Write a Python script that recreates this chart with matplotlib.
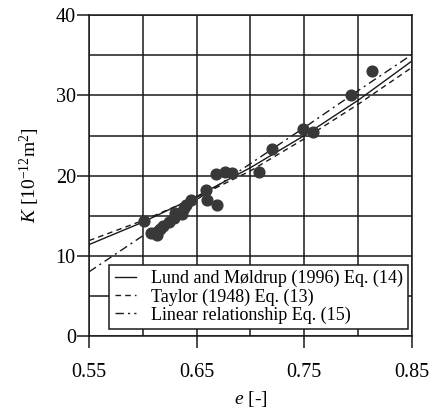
import matplotlib
matplotlib.use("Agg")
import matplotlib.pyplot as plt
from matplotlib.ticker import MultipleLocator

plt.rcParams['font.family'] = ['Liberation Serif', 'DejaVu Serif']
plt.rcParams['mathtext.fontset'] = 'custom'
plt.rcParams['mathtext.rm'] = 'Liberation Serif'
plt.rcParams['mathtext.it'] = 'Liberation Serif:italic'

# measured points
e_data = [0.601, 0.608, 0.6135, 0.616, 0.619, 0.624, 0.629, 0.630, 0.636, 0.638, 0.640,
          0.645, 0.659, 0.660, 0.669, 0.668, 0.676, 0.683, 0.708, 0.720, 0.749, 0.758,
          0.793, 0.813]
K_data = [14.3, 12.8, 12.6, 13.4, 13.7, 14.2, 14.7, 15.4, 15.2, 16.0, 16.4,
          17.0, 18.2, 16.9, 16.4, 20.2, 20.4, 20.3, 20.5, 23.3, 25.8, 25.4,
          30.0, 33.0]

# model curves
e_line = [0.55, 0.60, 0.65, 0.70, 0.75, 0.80, 0.85]
K_lund = [11.4, 14.2, 17.4, 21.0, 25.0, 29.4, 34.3]
K_taylor = [11.9, 14.4, 17.3, 20.6, 24.6, 28.9, 33.5]
K_linear = [8.0, 12.5, 17.0, 21.5, 26.0, 30.6, 35.1]

fig = plt.figure(figsize=(4.3, 4.08), dpi=100)
ax = fig.add_axes([0.207, 0.1765, 0.751, 0.786])

ink = '#1a1a1a'
ax.plot(e_line, K_lund, color=ink, lw=1.0, ls='-', label='Lund and Møldrup (1996) Eq. (14)')
ax.plot(e_line, K_taylor, color=ink, lw=1.0, ls=(0, (4, 3)), label='Taylor (1948) Eq. (13)')
ax.plot(e_line, K_linear, color=ink, lw=1.0, ls=(0, (6, 3, 1.5, 3)), label='Linear relationship Eq. (15)')
ax.scatter(e_data, K_data, s=60, color='#383838', zorder=3)

ax.set_xlim(0.55, 0.85)
ax.set_ylim(0, 40)
ax.xaxis.set_minor_locator(MultipleLocator(0.05))
ax.yaxis.set_major_locator(MultipleLocator(10))
ax.yaxis.set_minor_locator(MultipleLocator(5))
ax.set_xticks([0.55, 0.65, 0.75, 0.85])
ax.set_xticklabels(['0.55', '0.65', '0.75', '0.85'])
ax.grid(True, which='both', color=ink, lw=1.1)
ax.tick_params(which='major', direction='out', length=8.5, width=1.1, color=ink, labelsize=14.5)
ax.tick_params(axis='x', which='major', pad=11)
ax.tick_params(axis='y', which='major', pad=1)
ax.tick_params(which='minor', length=0)
for s in ax.spines.values():
    s.set_linewidth(1.1)
    s.set_color(ink)

ax.set_xlabel('$e$ [-]', fontsize=14, labelpad=5)
ax.set_ylabel('$K$ [10$^{-12}$m$^{2}$]', fontsize=14, labelpad=10)

leg = ax.legend(loc='lower right', bbox_to_anchor=(0.9885, 0.021), borderaxespad=0,
                fontsize=13, frameon=True, fancybox=False, edgecolor=ink,
                framealpha=1, handlelength=1.2, handletextpad=0.8,
                labelspacing=0.05, borderpad=0.3)
leg.get_frame().set_linewidth(1.1)

fig.savefig('out.png', dpi=100)
